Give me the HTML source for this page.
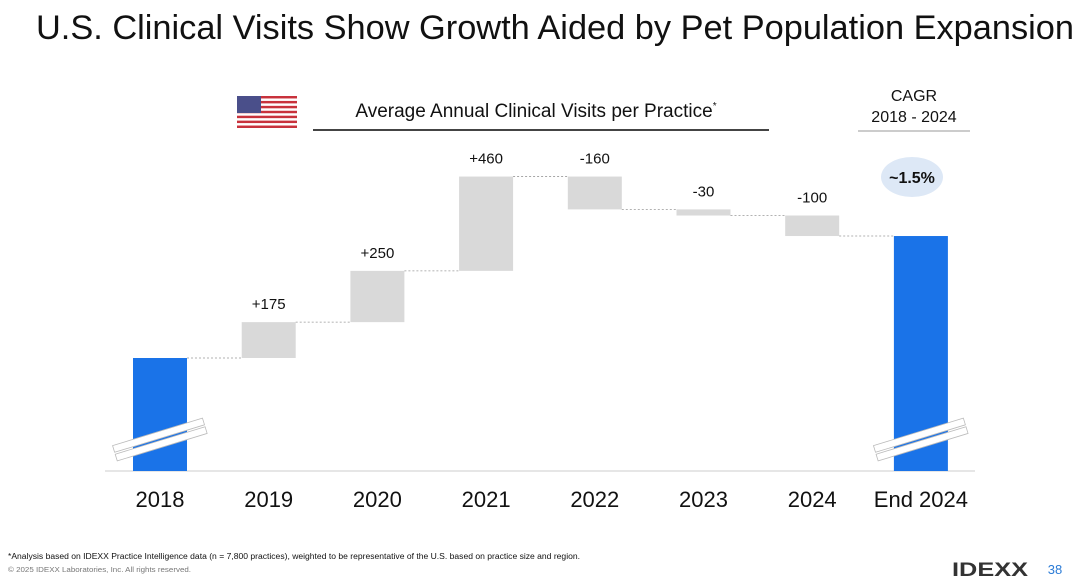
<!DOCTYPE html>
<html><head><meta charset="utf-8"><style>
body{margin:0;width:1080px;height:581px;background:#fff;overflow:hidden;font-family:"Liberation Sans",sans-serif}
</style></head><body>
<svg width="1080" height="581" viewBox="0 0 1080 581" xmlns="http://www.w3.org/2000/svg" font-family="Liberation Sans, sans-serif">
<text x="36" y="39" font-size="34" textLength="1038" lengthAdjust="spacingAndGlyphs" fill="#111">U.S. Clinical Visits Show Growth Aided by Pet Population Expansion</text>
<g>
<rect x="237" y="96" width="60" height="32" fill="#fff"/>
<g id="stripes"></g>
<rect x="237" y="96" width="24" height="17" fill="#4a4f8a"/>
</g>
<text x="536" y="117" font-size="19" text-anchor="middle" fill="#111">Average Annual Clinical Visits per Practice<tspan font-size="10" dy="-8">*</tspan></text>
<line x1="313" y1="130" x2="769" y2="130" stroke="#444" stroke-width="2"/>
<text x="914" y="101" font-size="16" text-anchor="middle" fill="#111">CAGR</text>
<text x="914" y="122" font-size="16" text-anchor="middle" fill="#111">2018 - 2024</text>
<line x1="858" y1="131" x2="970" y2="131" stroke="#bbb" stroke-width="1.5"/>
<ellipse cx="912" cy="177" rx="31" ry="20" fill="#dde8f6"/>
<text x="912" y="183" font-size="16" font-weight="bold" text-anchor="middle" fill="#111">~1.5%</text>
<line x1="105" y1="471" x2="975" y2="471" stroke="#ddd" stroke-width="1.5"/>
<g id="chart"></g>
<text x="8" y="559" font-size="8" textLength="572" lengthAdjust="spacingAndGlyphs" fill="#111">*Analysis based on IDEXX Practice Intelligence data (n = 7,800 practices), weighted to be representative of the U.S. based on practice size and region.</text>
<text x="8" y="572" font-size="7.5" textLength="183" lengthAdjust="spacingAndGlyphs" fill="#777">© 2025 IDEXX Laboratories, Inc. All rights reserved.</text>
<text x="990" y="576" font-size="19" font-weight="bold" fill="#333" textLength="76" lengthAdjust="spacingAndGlyphs" text-anchor="middle">IDEXX</text>
<text x="1055" y="574" font-size="13" fill="#2b7bd6" text-anchor="middle">38</text>
</svg>
<script>
const categories=["2018","2019","2020","2021","2022","2023","2024","End 2024"];
const deltas=[null,175,250,460,-160,-30,-100,null];
const deltaLabels=["","+175","+250","+460","-160","-30","-100",""];
const startValue=5000;
const NS="http://www.w3.org/2000/svg";
const g=document.getElementById('chart');
const st=document.getElementById('stripes');
for(let i=0;i<7;i++){const r=document.createElementNS(NS,'rect');r.setAttribute('x',237);r.setAttribute('y',96+i*32/6.5);r.setAttribute('width',60);r.setAttribute('height',32/13);r.setAttribute('fill','#c8323c');st.appendChild(r);}
const baseY=471, k=0.205, topStart=358;
const y=v=>topStart-(v-startValue)*k;
const xc=i=>160+i*108.7;
const bw=54;
function mk(tag,attrs){const e=document.createElementNS(NS,tag);for(const a in attrs)e.setAttribute(a,attrs[a]);g.appendChild(e);return e;}
let cur=startValue;
categories.forEach((c,i)=>{
  let t=mk('text',{x:xc(i),y:507,'font-size':22,'text-anchor':'middle',fill:'#111'});t.textContent=c;
  
  
  let prev=cur, r;
  if(deltas[i]===null){
    r=mk('rect',{x:xc(i)-bw/2,y:y(cur),width:bw,height:baseY-y(cur),fill:'#1a73e8'});
    
    
    const bg=mk('g',{transform:`translate(${xc(i)},440) rotate(-17)`});
    
    
    [-5,4].forEach(o=>{const rr=document.createElementNS(NS,'rect');rr.setAttribute('x',-47);rr.setAttribute('y',o-3.5);rr.setAttribute('width',94);rr.setAttribute('height',7);rr.setAttribute('fill','#fff');rr.setAttribute('stroke','#bbb');rr.setAttribute('stroke-width','0.8');bg.appendChild(rr);});
  } else {
    cur=prev+deltas[i];
    const top=Math.min(y(prev),y(cur)),h=Math.abs(y(prev)-y(cur));
    r=mk('rect',{x:xc(i)-bw/2,y:top,width:bw,height:h,fill:'#d9d9d9'});
    
    
    const l=mk('text',{x:xc(i),y:top-13,'font-size':15,'text-anchor':'middle',fill:'#111'});l.textContent=deltaLabels[i];
    
    
  }
  if(i<categories.length-1){
    const ln=mk('line',{x1:xc(i)+bw/2,x2:xc(i+1)-bw/2,y1:y(cur),y2:y(cur),stroke:'#999','stroke-width':0.8,'stroke-dasharray':'2,2'});
    
    
  }
});
</script>
</body></html>
